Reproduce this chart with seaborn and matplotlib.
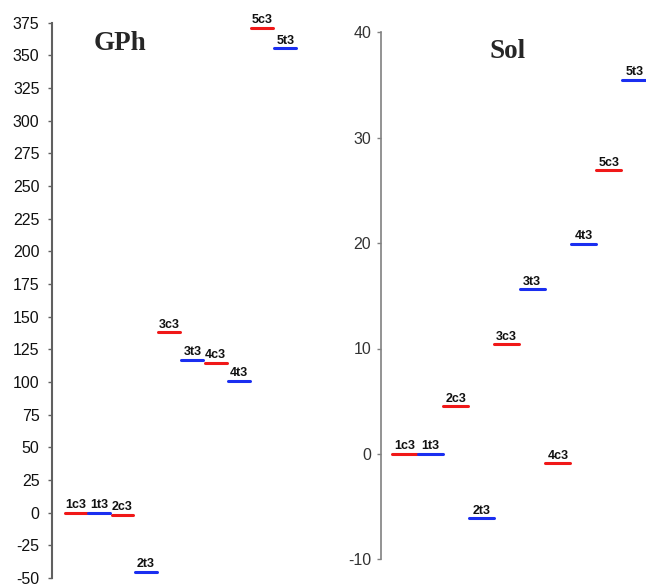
import numpy as np
import pandas as pd
import matplotlib
matplotlib.use("Agg")
import matplotlib.pyplot as plt
import seaborn as sns

# ---- data ----
labels = ["1c3", "1t3", "2c3", "2t3", "3c3", "3t3", "4c3", "4t3", "5c3", "5t3"]
kinds = ["c", "t", "c", "t", "c", "t", "c", "t", "c", "t"]
gph_values = [0, 0, -1.5, -45.5, 138, 117, 114.5, 101, 371, 355.5]
sol_values = [0, 0, 4.5, -6.1, 10.4, 15.6, -0.9, 19.9, 26.9, 35.5]
gph_ticks = list(range(-50, 376, 25))
sol_ticks = [-10, 0, 10, 20, 30, 40]
palette = {"c": "#f01818", "t": "#1a2ef0"}

sns.set_style("white")
plt.rcParams["font.family"] = ["Liberation Sans", "DejaVu Sans"]

W, H = 646, 587
fig = plt.figure(figsize=(W / 100, H / 100), dpi=100)


def level_frame(values, hw):
    rows = []
    for i, (lab, k, v) in enumerate(zip(labels, kinds, values)):
        rows.append({"x": i - hw, "y": v, "label": lab, "kind": k})
        rows.append({"x": i + hw, "y": v, "label": lab, "kind": k})
    return pd.DataFrame(rows)


def draw_panel(rect_px, xlim, ylim, ticks, values, hw, spine_color, spine_w, tick_fs, tick_color, pad):
    x0, y0, x1, y1 = rect_px
    ax = fig.add_axes([x0 / W, 1 - y1 / H, (x1 - x0) / W, (y1 - y0) / H])
    df = level_frame(values, hw)
    sns.lineplot(data=df, x="x", y="y", hue="kind", units="label", estimator=None,
                 palette=palette, legend=False, lw=2.2, ax=ax, clip_on=False)
    for i, (lab, v) in enumerate(zip(labels, values)):
        ax.annotate(lab, (i, v), xytext=(0, 1.2), textcoords="offset points",
                    ha="center", va="bottom", fontsize=9, fontweight="bold",
                    color="#111111", annotation_clip=False)
    ax.set_xlim(*xlim)
    ax.set_ylim(*ylim)
    ax.set_yticks(ticks)
    ax.set_yticklabels([str(t) for t in ticks])
    ax.set_xticks([])
    ax.set_xlabel("")
    ax.set_ylabel("")
    for s in ["top", "right", "bottom"]:
        ax.spines[s].set_visible(False)
    ax.spines["left"].set_color(spine_color)
    ax.spines["left"].set_linewidth(spine_w)
    ax.tick_params(axis="y", which="major", direction="out", length=3, width=1.0,
                   color=spine_color, labelsize=tick_fs, labelcolor=tick_color, pad=pad, left=True)
    ax.patch.set_alpha(0)
    return ax


draw_panel((52, 22.7, 308, 578), (-1.03, 9.97), (-50, 375), gph_ticks, gph_values,
           0.47, "#606060", 1.5, 11.5, "#111111", 6.0)
draw_panel((381, 32.3, 646, 559.3), (-0.92, 9.45), (-10, 40), sol_ticks, sol_values,
           0.49, "#808080", 1.2, 11.5, "#333333", 4.0)

fig.text(120 / W, 1 - 50 / H, "GPh", ha="center", va="baseline", fontsize=19.5,
         fontweight="bold", family=["Liberation Serif", "DejaVu Serif"])
fig.text(508 / W, 1 - 58.3 / H, "Sol", ha="center", va="baseline", fontsize=19.5,
         fontweight="bold", family=["Liberation Serif", "DejaVu Serif"])

fig.savefig("out.png", dpi=100)
